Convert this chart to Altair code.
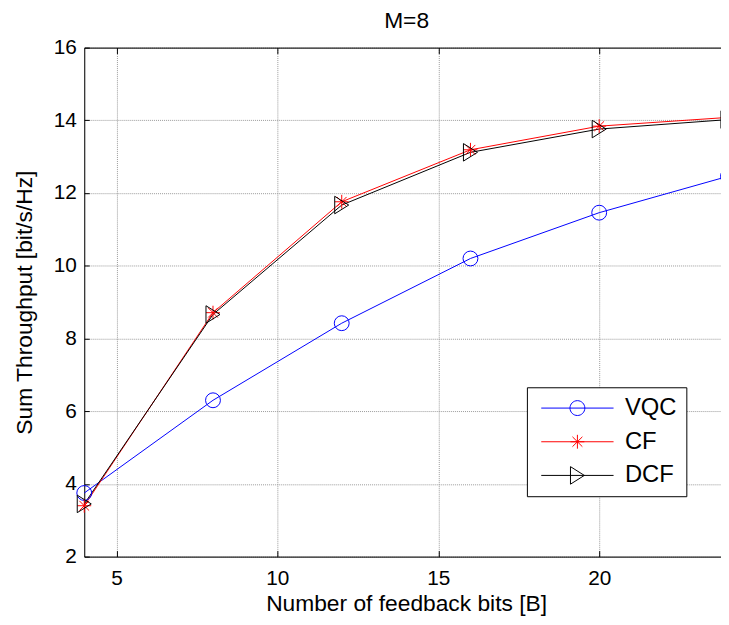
import altair as alt
import pandas as pd

# ---- data ----
bits = [4, 8, 12, 16, 20, 24]
vqc = [3.75, 6.30, 8.42, 10.20, 11.46, 12.46]
cf = [3.40, 8.71, 11.76, 13.19, 13.84, 14.08]
dcf = [3.45, 8.66, 11.67, 13.12, 13.76, 14.02]
series_names = ["VQC", "CF", "DCF"]
series_colors = ["#0000ff", "#ff0000", "#000000"]
x_ticks = [5, 10, 15, 20]
y_ticks = [2, 4, 6, 8, 10, 12, 14, 16]

rows = []
for name, col, vals in zip(series_names, series_colors, [vqc, cf, dcf]):
    for b, v in zip(bits, vals):
        rows.append({"B": b, "T": v, "series": name, "col": col})
df = pd.DataFrame(rows)

W, H = 650, 514
FONT = "Liberation Sans"

# marker shapes (plot)
circle_shape = "circle"
star_shape = "M-1,0L1,0M0,-1L0,1M-0.7,-0.7L0.7,0.7M-0.7,0.7L0.7,-0.7"
tri_shape = "M-0.8,-1L0.8,0L-0.8,1Z"

# legend symbols: line with marker in the middle (unit = 10px at size 400)
leg_line = "M-3.65,0L3.65,0"
leg_paths = [
    leg_line + "M0.75,0A0.75,0.75 0 1,1 -0.75,0A0.75,0.75 0 1,1 0.75,0",
    leg_line + "M-0.7,0L0.7,0M0,-0.7L0,0.7M-0.5,-0.5L0.5,0.5M-0.5,0.5L0.5,-0.5",
    leg_line + "M-0.7,-0.885L0.7,0L-0.7,0.885Z",
]

xs = alt.Scale(domain=[4, 24], nice=False, zero=False)
ys = alt.Scale(domain=[2, 16], nice=False, zero=False)
cs = alt.Scale(domain=series_names, range=series_colors)

GRID = "#9a9a9a"

ax_x_main = alt.Axis(
    orient="bottom", values=x_ticks, grid=True, gridColor=GRID, gridDash=[1, 1],
    gridWidth=1, ticks=False, tickSize=0, domain=True, domainColor="black",
    domainWidth=1, labelFontSize=21, labelColor="black", labelPadding=11,
    labelFont=FONT, title="Number of feedback bits [B]", titleFontSize=23,
    titleFont=FONT, titleFontWeight="normal", titleColor="black",
    titleY=54, titleBaseline="alphabetic",
)
ax_y_main = alt.Axis(
    orient="left", values=y_ticks, grid=True, gridColor=GRID, gridDash=[1, 1],
    gridWidth=1, ticks=False, tickSize=0, domain=True, domainColor="black",
    domainWidth=1, labelFontSize=21, labelColor="black", labelPadding=8,
    labelFont=FONT, title="Sum Throughput [bit/s/Hz]", titleFontSize=23,
    titleFont=FONT, titleFontWeight="normal", titleColor="black",
    titleX=-53, titleBaseline="alphabetic",
)
# inward ticks at bottom edge
ax_x_in_bottom = alt.Axis(orient="top", offset=-H, values=x_ticks, labels=False,
                          domain=False, grid=False, ticks=True, tickSize=6,
                          tickColor="black", title=None)
# top border + inward ticks
ax_x_top = alt.Axis(orient="bottom", offset=-H, values=x_ticks, labels=False,
                    domain=True, domainColor="black", grid=False, ticks=True,
                    tickSize=6, tickColor="black", title=None)
# chart title, carried by a bare top axis
ax_x_title = alt.Axis(orient="top", values=x_ticks, labels=False, domain=False,
                      grid=False, ticks=False, title="M=8", titleFontSize=23,
                      titleFont=FONT, titleFontWeight="normal", titleColor="black",
                      titleY=-20.5, titleBaseline="alphabetic")
# inward ticks at left edge
ax_y_in_left = alt.Axis(orient="right", offset=-W, values=y_ticks, labels=False,
                        domain=False, grid=False, ticks=True, tickSize=5,
                        tickColor="black", title=None)
# right border + inward ticks
ax_y_right = alt.Axis(orient="left", offset=-W, values=y_ticks, labels=False,
                      domain=True, domainColor="black", grid=False, ticks=True,
                      tickSize=5, tickColor="black", title=None)

base = alt.Chart(df)

lines = base.mark_line(strokeWidth=1).encode(
    x=alt.X("B:Q", scale=xs, axis=ax_x_main),
    y=alt.Y("T:Q", scale=ys, axis=ax_y_main),
    color=alt.Color("col:N", scale=None),
    detail="series:N",
)

def markers(name, shape, size, xaxis, yaxis):
    return base.transform_filter(alt.datum.series == name).mark_point(
        shape=shape, filled=False, size=size, strokeWidth=1, opacity=1
    ).encode(
        x=alt.X("B:Q", scale=xs, axis=xaxis),
        y=alt.Y("T:Q", scale=ys, axis=yaxis),
        color=alt.Color("col:N", scale=None),
    )

m_vqc = markers("VQC", circle_shape, 225, ax_x_in_bottom, ax_y_in_left)
m_cf = markers("CF", star_shape, 196, ax_x_top, ax_y_right)
m_dcf = markers("DCF", tri_shape, 313, ax_x_title, None)

leg = alt.Legend(
    orient="none", legendX=447, legendY=343, title=None, padding=9,
    fillColor="white", strokeColor="black", cornerRadius=0,
    symbolSize=400, symbolStrokeWidth=1, symbolOffset=30, labelOffset=36,
    labelFontSize=24, labelFont=FONT, labelColor="black", rowPadding=10,
    symbolOpacity=1, labelBaseline="middle",
)
legend_layer = base.mark_point(filled=False, opacity=0, size=400).encode(
    x=alt.X("B:Q", scale=xs, axis=None),
    y=alt.Y("T:Q", scale=ys, axis=None),
    color=alt.Color("series:N", scale=cs, legend=leg),
    shape=alt.Shape("series:N",
                    scale=alt.Scale(domain=series_names, range=leg_paths),
                    legend=leg),
)

chart = alt.layer(lines, m_vqc, m_cf, m_dcf, legend_layer).resolve_axis(
    x="independent", y="independent"
).properties(
    width=W, height=H,
    autosize=alt.AutoSizeParams(type="none"),
    padding={"left": 77, "top": 37, "right": -7, "bottom": 62},
).configure_view(stroke=None).configure(background="white")

chart.save("out.html", embed_options={"renderer": "svg", "actions": False})
